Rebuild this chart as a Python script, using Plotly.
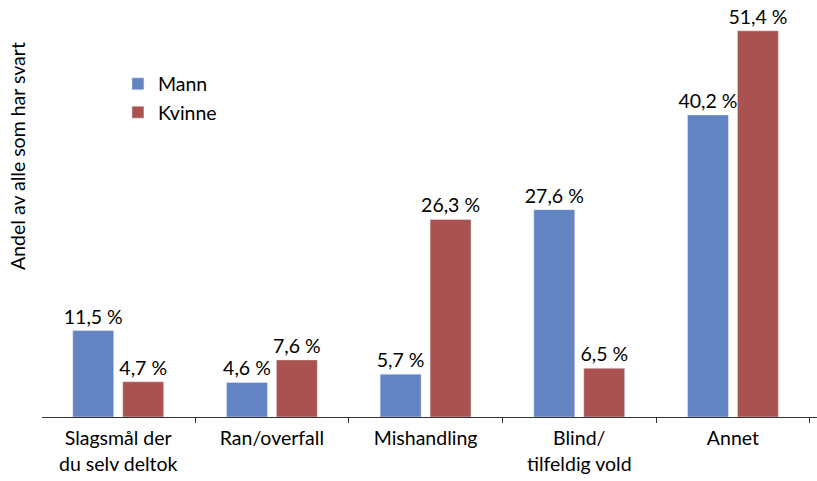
import plotly.graph_objects as go

categories = ["Slagsmål der<br>du selv deltok", "Ran/overfall", "Mishandling", "Blind/<br>tilfeldig vold", "Annet"]
mann = [11.5, 4.6, 5.7, 27.6, 40.2]
kvinne = [4.7, 7.6, 26.3, 6.5, 51.4]

FONT = "Lato"
SIZE = 19.5
fig = go.Figure()
for name, vals, col in [("Mann", mann, "#6284C2"), ("Kvinne", kvinne, "#A9524F")]:
    fig.add_trace(go.Bar(x=categories, y=vals, name=name, marker_color=col,
                         texttemplate="%{y:.1f} %", textposition="outside",
                         constraintext="none",
                         textfont=dict(size=SIZE, color="#000000", family=FONT), cliponaxis=False))

fig.update_layout(
    width=817, height=481,
    margin=dict(l=42, r=0, t=0, b=64),
    plot_bgcolor="white", paper_bgcolor="white",
    separators=", ",
    barmode="group", bargap=0.35, bargroupgap=0.18,
    font=dict(family=FONT, size=SIZE, color="#000000"),
    legend=dict(x=0.098, y=0.845, xanchor="left", yanchor="top",
                font=dict(size=SIZE, family=FONT), bgcolor="rgba(0,0,0,0)"),
    xaxis=dict(range=[-0.496, 4.547], showline=True, linecolor="#333333", linewidth=1,
               ticks="outside", tickson="boundaries", ticklen=5, tickcolor="#333333",
               ticklabelstandoff=4,
               showgrid=False, tickfont=dict(size=SIZE, family=FONT)),
    yaxis=dict(range=[0, 55.5], showticklabels=False, showgrid=False, zeroline=False,
               showline=False, ticks=""),
    annotations=[dict(text="Andel av alle som har svart", textangle=-90,
                      xref="paper", yref="paper", x=-0.031, y=0.626,
                      xanchor="center", yanchor="middle", showarrow=False,
                      font=dict(size=SIZE, family=FONT))],
)
fig.write_html("out.html")
